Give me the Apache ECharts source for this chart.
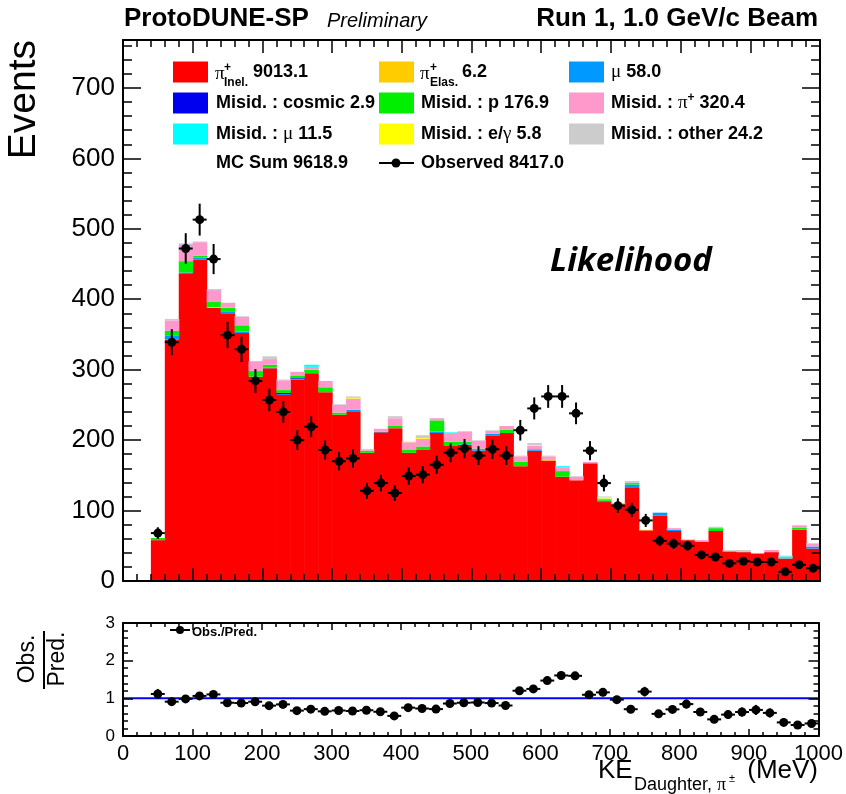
<!DOCTYPE html>
<html>
<head>
<meta charset="utf-8">
<title>ProtoDUNE-SP KE Daughter π±</title>
<script src="https://cdn.jsdelivr.net/npm/echarts@6/dist/echarts.min.js"></script>
<style>
  html, body { margin: 0; padding: 0; background: #fff; }
  #chart { width: 846px; height: 794px; }
</style>
</head>
<body>
<div id="chart"></div>
<script>
// bin centres (MeV), 20 MeV wide bins
const binCenters = [50, 70, 90, 110, 130, 150, 170, 190, 210, 230, 250, 270, 290, 310, 330, 350,
  370, 390, 410, 430, 450, 470, 490, 510, 530, 550, 570, 590, 610, 630, 650, 670,
  690, 710, 730, 750, 770, 790, 810, 830, 850, 870, 890, 910, 930, 950, 970, 990];
const binHalfWidth = 10;

// MC components, stacked bottom to top
const piInel = [58, 343, 437, 456, 388, 380, 352, 290, 302, 264, 286, 295, 268, 236, 241, 182,
  211, 217, 182, 186, 210, 192, 193, 185, 206, 210, 163, 185, 171, 148, 143, 167,
  112, 109, 132, 72, 93, 71, 58, 56, 71, 42, 41, 39, 41, 32, 73, 46];
const piElas = [0, 0, 0, 0, 1, 0, 0, 0, 0, 0, 0, 0, 0, 0, 0, 0,
  0, 0, 0, 0, 0, 0, 0, 0, 0, 0, 0, 0, 1, 0, 0, 0,
  0, 0, 0, 0, 0, 0, 0, 0, 0, 0, 0, 0, 0, 0, 0, 0];
const muon = [0, 5, 1, 3, 0, 2, 2, 0, 1, 1, 1, 0, 0, 0, 2, 0,
  1, 0, 0, 0, 2, 1, 1, 1, 3, 0, 0, 2, 0, 0, 0, 0,
  2, 0, 5, 0, 4, 2, 0, 0, 0, 0, 0, 0, 0, 0, 0, 3];
const misidCosmic = [0, 0, 0, 0, 0, 0, 0, 0, 0, 2, 1, 0, 0, 0, 0, 0,
  0, 0, 0, 0, 0, 0, 0, 0, 0, 0, 0, 0, 0, 0, 0, 0,
  0, 0, 0, 0, 0, 0, 0, 0, 0, 0, 0, 0, 0, 0, 0, 0];
const misidP = [3, 7, 16, 3, 7, 6, 9, 8, 4, 4, 3, 5, 7, 3, 0, 3,
  0, 3, 4, 5, 16, 5, 4, 2, 0, 5, 6, 0, 0, 8, 0, 0,
  2, 1, 2, 0, 0, 0, 0, 0, 4, 0, 0, 0, 0, 0, 3, 0];
const misidPi = [0, 15, 24, 19, 17, 7, 12, 14, 8, 14, 6, 4, 9, 11, 16, 2,
  4, 11, 11, 11, 3, 12, 14, 11, 4, 5, 8, 5, 5, 5, 5, 2,
  0, 0, 0, 0, 0, 2, 1, 2, 0, 1, 0, 0, 3, 0, 3, 4];
const misidMu = [0, 0, 1, 0, 1, 0, 0, 0, 0, 0, 0, 3, 0, 0, 0, 0,
  0, 0, 0, 0, 0, 1, 0, 0, 0, 0, 0, 0, 0, 2, 0, 0,
  1, 0, 0, 0, 0, 0, 0, 0, 0, 0, 0, 0, 0, 3, 0, 0];
const misidEg = [0, 0, 0, 0, 0, 0, 0, 0, 0, 0, 0, 0, 0, 0, 1, 0,
  0, 0, 1, 1, 0, 0, 0, 0, 0, 0, 0, 1, 0, 0, 0, 0,
  2, 0, 0, 1, 0, 0, 0, 0, 0, 0, 0, 0, 0, 0, 0, 0];
const misidOther = [0, 2, 0, 1, 0, 0, 1, 0, 4, 1, 0, 0, 0, 1, 2, 0,
  0, 3, 0, 4, 0, 0, 1, 1, 1, 0, 1, 3, 1, 0, 1, 0,
  1, 1, 3, 0, 0, 0, 0, 0, 2, 1, 3, 0, 0, 1, 0, 1];

// data
const observed = [68, 339, 472, 513, 457, 349, 329, 284, 257, 240, 200, 219, 186, 170, 174, 128,
  139, 125, 149, 151, 165, 182, 188, 178, 187, 178, 214, 245, 262, 262, 238, 185,
  139, 107, 101, 86, 57, 53, 50, 37, 34, 25, 28, 27, 27, 13, 23, 18];

const xTicks = [0, 1000, 100];      // min, max, interval
const yMainTicks = [0, 768, 100];
const yRatioTicks = [0, 3, 1];
const unityLine = [[0, 1], [1000, 1]];

const FONT = '"Liberation Sans", Arial, Helvetica, sans-serif';
const SERIF = '"Liberation Serif", "DejaVu Serif", serif';

const stackDefs = [
  { name: 'π+ Inel.', values: piInel, color: '#ff0000' },
  { name: 'π+ Elas.', values: piElas, color: '#ffcc00' },
  { name: 'μ', values: muon, color: '#0099ff' },
  { name: 'Misid. : cosmic', values: misidCosmic, color: '#0000ee' },
  { name: 'Misid. : p', values: misidP, color: '#00ee00' },
  { name: 'Misid. : π+', values: misidPi, color: '#ff99cc' },
  { name: 'Misid. : μ', values: misidMu, color: '#00ffff' },
  { name: 'Misid. : e/γ', values: misidEg, color: '#ffff00' },
  { name: 'Misid. : other', values: misidOther, color: '#cccccc' },
];

const totals = binCenters.map((_, i) => stackDefs.reduce((s, d) => s + d.values[i], 0));

function renderBin(params, api) {
  const c = api.value(0);
  const p0 = api.coord([c - binHalfWidth, api.value(2)]);
  const p1 = api.coord([c + binHalfWidth, api.value(1)]);
  return {
    type: 'rect',
    shape: { x: p0[0], y: p0[1], width: p1[0] - p0[0] + 0.6, height: p1[1] - p0[1] },
    style: { fill: api.visual('color') },
  };
}

function renderPoint(params, api) {
  const c = api.value(0), v = api.value(1), e = api.value(2);
  const pl = api.coord([c - binHalfWidth, v]);
  const pr = api.coord([c + binHalfWidth, v]);
  const pt = api.coord([c, v + e]);
  const pb = api.coord([c, v - e]);
  const lineStyle = { stroke: '#000', lineWidth: 2 };
  return {
    type: 'group',
    children: [
      { type: 'line', shape: { x1: pl[0], y1: pl[1], x2: pr[0], y2: pr[1] }, style: lineStyle },
      { type: 'line', shape: { x1: pt[0], y1: pt[1], x2: pb[0], y2: pb[1] }, style: lineStyle },
      { type: 'circle', shape: { cx: pl[0] + (pr[0] - pl[0]) / 2, cy: pl[1], r: 4.5 }, style: { fill: '#000' } },
    ],
  };
}

const base = binCenters.map(() => 0);
const stackSeries = stackDefs.map((def) => {
  const data = [];
  binCenters.forEach((c, i) => {
    const v = def.values[i];
    if (v > 0) data.push([c, base[i], base[i] + v]);
    base[i] += v;
  });
  return {
    type: 'custom',
    name: def.name,
    xAxisIndex: 0,
    yAxisIndex: 0,
    renderItem: renderBin,
    itemStyle: { color: def.color },
    encode: { x: 0, y: [1, 2] },
    data,
  };
});

const observedData = binCenters.map((c, i) => [c, observed[i], Math.sqrt(observed[i])]);
const ratioData = binCenters.map((c, i) => [c, observed[i] / totals[i], Math.sqrt(observed[i]) / totals[i]]);

function xAxis(gridIndex, position, showLabel, tickLen, minorLen) {
  return {
    type: 'value',
    gridIndex,
    position,
    min: xTicks[0],
    max: xTicks[1],
    interval: xTicks[2],
    z: 5,
    axisLine: { show: true, onZero: false, lineStyle: { color: '#000', width: 2 } },
    axisTick: { show: true, inside: true, length: tickLen, lineStyle: { color: '#000', width: 1.5 } },
    minorTick: { show: true, splitNumber: 5, length: minorLen, lineStyle: { color: '#000', width: 1.5 } },
    axisLabel: {
      show: showLabel, color: '#000', fontFamily: FONT, fontSize: 22, margin: 7,
      formatter: (v) => String(v),
    },
    splitLine: { show: false },
  };
}

function yAxis(gridIndex, position, ticks, showLabel, fontSize, tickLen, minorLen) {
  return {
    type: 'value',
    gridIndex,
    position,
    min: ticks[0],
    max: ticks[1],
    interval: ticks[2],
    z: 5,
    axisLine: { show: true, onZero: false, lineStyle: { color: '#000', width: 2 } },
    axisTick: { show: true, inside: true, length: tickLen, lineStyle: { color: '#000', width: 1.5 } },
    minorTick: { show: true, splitNumber: 5, length: minorLen, lineStyle: { color: '#000', width: 1.5 } },
    axisLabel: {
      show: showLabel, color: '#000', fontFamily: FONT, fontSize, margin: 8,
      showMaxLabel: ticks[1] % ticks[2] === 0,
      formatter: (v) => (v % ticks[2] === 0 ? String(v) : ''),
    },
    splitLine: { show: false },
  };
}

function label(x, y, text, opts) {
  return {
    type: 'text',
    x, y,
    z: 20,
    style: Object.assign({ text, fill: '#000', font: 'bold 18px ' + FONT, align: 'left', verticalAlign: 'middle' }, opts || {}),
  };
}

const legendRows = [72, 103, 134, 163];
const legendCols = [173, 379, 569];
const legendBoxes = [
  [0, 0, '#ff0000'], [1, 0, '#ffcc00'], [2, 0, '#0099ff'],
  [0, 1, '#0000ee'], [1, 1, '#00ee00'], [2, 1, '#ff99cc'],
  [0, 2, '#00ffff'], [1, 2, '#ffff00'], [2, 2, '#cccccc'],
];

const rich = {
  g: { fontFamily: SERIF, fontSize: 19, fontWeight: 'normal', fill: '#000' },
  sup: { fontFamily: FONT, fontSize: 12, fontWeight: 'bold', fill: '#000', verticalAlign: 'top', padding: [0, 0, 10, 0] },
};

const graphics = [
  label(124, 19, 'ProtoDUNE-SP', { font: 'bold 26px ' + FONT }),
  label(327, 21, 'Preliminary', { font: 'italic 20px ' + FONT }),
  label(818, 19, 'Run 1, 1.0 GeV/c Beam', { font: 'bold 26px ' + FONT, align: 'right' }),
  label(24, 40, 'Events', { font: '39px ' + FONT, align: 'right' }),
  label(631, 262, 'Likelihood', { font: 'italic bold 33px "Open Sans", "Noto Sans", sans-serif', align: 'center' }),
  // legend text
  label(215, 74, 'π', { font: '19px ' + SERIF }),
  label(224, 68, '+', { font: 'bold 12px ' + FONT }),
  label(224, 83, 'Inel.', { font: 'bold 12px ' + FONT }),
  label(253, 72, '9013.1'),
  label(420, 74, 'π', { font: '19px ' + SERIF }),
  label(430, 68, '+', { font: 'bold 12px ' + FONT }),
  label(430, 83, 'Elas.', { font: 'bold 12px ' + FONT }),
  label(462, 72, '6.2'),
  label(611, 72, '{g|μ} 58.0', { rich }),
  label(216, 103, 'Misid. : cosmic 2.9'),
  label(421, 103, 'Misid. : p 176.9'),
  label(611, 103, 'Misid. : {g|π}{sup|+} 320.4', { rich }),
  label(216, 134, 'Misid. : {g|μ} 11.5', { rich }),
  label(421, 134, 'Misid. : e/{g|γ} 5.8', { rich }),
  label(611, 134, 'Misid. : other 24.2'),
  label(216, 163, 'MC Sum 9618.9'),
  label(421, 163, 'Observed 8417.0'),
  { type: 'line', z: 20, shape: { x1: 379, y1: 163, x2: 414, y2: 163 }, style: { stroke: '#000', lineWidth: 2 } },
  { type: 'circle', z: 20, shape: { cx: 396, cy: 163, r: 4.5 }, style: { fill: '#000' } },
  // ratio legend
  { type: 'line', z: 20, shape: { x1: 170, y1: 630, x2: 190, y2: 630 }, style: { stroke: '#000', lineWidth: 2 } },
  { type: 'circle', z: 20, shape: { cx: 180, cy: 630, r: 4 }, style: { fill: '#000' } },
  label(192, 632, 'Obs./Pred.', { font: 'bold 13px ' + FONT }),
  // ratio y title
  label(28, 659, 'Obs.', { font: '23px ' + FONT, align: 'center' }),
  label(58, 659, 'Pred.', { font: '23px ' + FONT, align: 'center' }),
  // x title
  label(598, 771, 'KE', { font: '26px ' + FONT }),
  label(634, 785, 'Daughter, {g|π}', { font: '18px ' + FONT, rich: { g: { fontFamily: SERIF, fontSize: 18, fill: '#000' } } }),
  label(729, 779, '±', { font: '11px ' + FONT }),
  label(818, 771, '(MeV)', { font: '26px ' + FONT, align: 'right' }),
];
// rotate the vertical titles
graphics[3].rotation = Math.PI / 2;
graphics.forEach((g) => {
  if (g.style && (g.style.text === 'Obs.' || g.style.text === 'Pred.')) g.rotation = Math.PI / 2;
});
legendBoxes.forEach(([col, row, color]) => {
  graphics.push({
    type: 'rect', z: 20,
    shape: { x: legendCols[col], y: legendRows[row] - 10.5, width: 35, height: 21 },
    style: { fill: color },
  });
});
graphics.push({ type: 'line', z: 20, shape: { x1: 44, y1: 631, x2: 44, y2: 689 }, style: { stroke: '#000', lineWidth: 2 } });

const chart = echarts.init(document.getElementById('chart'), null, { renderer: 'canvas' });
chart.setOption({
  animation: false,
  backgroundColor: '#fff',
  grid: [
    { left: 123, right: 26, top: 40, height: 541 },
    { left: 123, right: 26, top: 623, height: 113 },
  ],
  xAxis: [
    xAxis(0, 'bottom', false, 13, 7),
    xAxis(0, 'top', false, 13, 7),
    xAxis(1, 'bottom', true, 7, 4),
    xAxis(1, 'top', false, 7, 4),
  ],
  yAxis: [
    yAxis(0, 'left', yMainTicks, true, 26, 18, 9),
    yAxis(0, 'right', yMainTicks, false, 26, 18, 9),
    yAxis(1, 'left', yRatioTicks, true, 17, 10, 5),
    yAxis(1, 'right', yRatioTicks, false, 17, 10, 5),
  ],
  series: [
    ...stackSeries,
    {
      type: 'custom',
      name: 'Observed',
      xAxisIndex: 0,
      yAxisIndex: 0,
      renderItem: renderPoint,
      encode: { x: 0, y: 1 },
      data: observedData,
      z: 4,
    },
    {
      type: 'line',
      name: 'unity',
      xAxisIndex: 2,
      yAxisIndex: 2,
      data: unityLine,
      symbol: 'none',
      lineStyle: { color: '#0000ff', width: 2 },
      z: 3,
    },
    {
      type: 'custom',
      name: 'Obs./Pred.',
      xAxisIndex: 2,
      yAxisIndex: 2,
      renderItem: renderPoint,
      encode: { x: 0, y: 1 },
      data: ratioData,
      z: 4,
    },
  ],
  graphic: graphics,
});
</script>
</body>
</html>
